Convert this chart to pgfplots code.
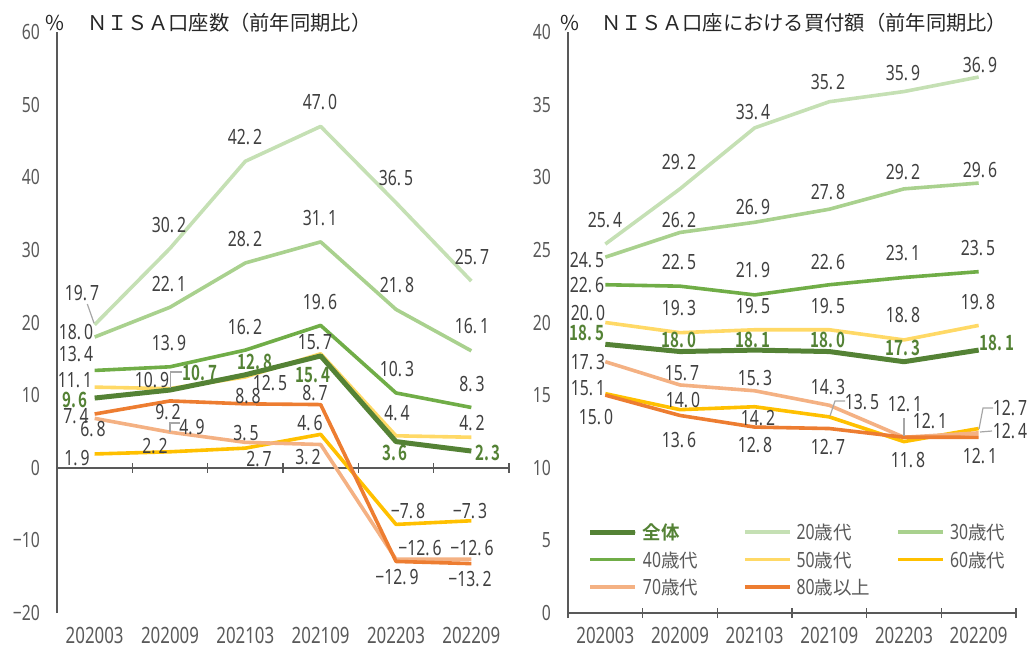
\documentclass[border=0pt]{standalone}
\usepackage{fontspec}
\usepackage{pgfplots}
\usepackage{pgfplotstable}
\pgfplotsset{compat=1.18}
\setmainfont{Noto Sans CJK JP}[BoldFont={Noto Sans CJK JP Bold}]
\newfontfamily\numf[FakeStretch=0.75]{Noto Sans}
\newfontfamily\numfb[FakeStretch=0.72]{Noto Sans CJK JP Bold}
\definecolor{cAll}{HTML}{548235}
\definecolor{c20}{HTML}{C5E0B4}
\definecolor{c30}{HTML}{A9D18E}
\definecolor{c40}{HTML}{70AD47}
\definecolor{c50}{HTML}{FFD966}
\definecolor{c60}{HTML}{FFC000}
\definecolor{c70}{HTML}{F4B183}
\definecolor{c80}{HTML}{ED7D31}
\definecolor{txt}{HTML}{404040}
\definecolor{axc}{HTML}{595959}
\definecolor{ldr}{HTML}{A6A6A6}

\pgfplotstableread{
x all a20 a30 a40 a50 a60 a70 a80
0 9.6 19.7 18.0 13.4 11.1 1.9 6.8 7.4
1 10.7 30.2 22.1 13.9 10.9 2.2 4.9 9.2
2 12.8 42.2 28.2 16.2 12.5 2.7 3.5 8.8
3 15.4 47.0 31.1 19.6 15.7 4.6 3.2 8.7
4 3.6 36.5 21.8 10.3 4.4 -7.8 -12.6 -12.9
5 2.3 25.7 16.1 8.3 4.2 -7.3 -12.6 -13.2
}\leftdata
\pgfplotstableread{
x all a20 a30 a40 a50 a60 a70 a80
0 18.5 25.4 24.5 22.6 20.0 15.1 17.3 15.0
1 18.0 29.2 26.2 22.5 19.3 14.0 15.7 13.6
2 18.1 33.4 26.9 21.9 19.5 14.2 15.3 12.8
3 18.0 35.2 27.8 22.6 19.5 13.5 14.3 12.7
4 17.3 35.9 29.2 23.1 18.8 11.8 12.1 12.1
5 18.1 36.9 29.6 23.5 19.8 12.7 12.4 12.1
}\rightdata

\def\fmt#1.#2\end{#1.\kern3pt#2}
\tikzset{
  lab/.style={font=\fontsize{21}{21}\numf, text=txt, inner sep=0pt, anchor=center},
  labg/.style={font=\fontsize{21}{21}\numfb, text=cAll, inner sep=0pt, anchor=center},
  ldrl/.style={draw=ldr, line width=1.2pt},
}
\newcommand\Lg[3]{\node[lab] at (#1pt,-#2pt) {\fmt#3\end};}
\newcommand\Lgr[3]{\node[labg] at (#1pt,-#2pt) {\fmt#3\end};}
\newcommand\lgtxt[1]{\makebox[95pt][l]{{\fontsize{21}{21}\numf #1}{\fontsize{18.5}{18.5}\selectfont 歳代}}}

\pgfplotsset{
  base/.style={
    scale only axis, xmin=-0.5, xmax=5.5, clip=false,
    axis x line*=bottom, axis y line*=left,
    x axis line style={draw=none},
    y axis line style={draw=axc, line width=1.5pt, -},
    xtick={0,...,5},
    xticklabels={202003,202009,202103,202109,202203,202209},
    major tick length=0pt, tick style={draw=none},
    xticklabel style={font=\fontsize{22.5}{22.5}\numf, text=axc, inner sep=0pt, anchor=north, yshift=-14pt},
    yticklabel style={font=\fontsize{21}{21}\numf, text=axc, inner sep=0pt, anchor=east, xshift=-17pt},
    every axis plot/.append style={line width=3.6pt, line join=round, no markers},
  }
}

\begin{document}
\begin{tikzpicture}
\path[use as bounding box] (0,0) rectangle (1032pt,-647pt);

% ---------- left chart ----------
\begin{axis}[base, at={(57pt,-613pt)}, anchor=south west, width=452pt, height=581pt,
  ymin=-20, ymax=60, ytick={-20,-10,...,60},
  yticklabels={−20,−10,0,10,20,30,40,50,60}]
\draw[axc, line width=1.5pt] (axis cs:-0.5,0) -- (axis cs:5.5,0);
\pgfplotsinvokeforeach{-0.5,0.5,1.5,2.5,3.5,4.5,5.5}{
  \draw[axc, line width=1.5pt] ([yshift=-5pt]axis cs:#1,0) -- ([yshift=5pt]axis cs:#1,0);
}
\addplot[c20] table[x=x,y=a20]{\leftdata};
\addplot[c30] table[x=x,y=a30]{\leftdata};
\addplot[c40] table[x=x,y=a40]{\leftdata};
\addplot[c50] table[x=x,y=a50]{\leftdata};
\addplot[c60] table[x=x,y=a60]{\leftdata};
\addplot[c70] table[x=x,y=a70]{\leftdata};
\addplot[c80] table[x=x,y=a80]{\leftdata};
\addplot[cAll, line width=5pt] table[x=x,y=all]{\leftdata};
\end{axis}

% ---------- right chart ----------
\begin{axis}[base, at={(568pt,-613pt)}, anchor=south west, width=448pt, height=581pt,
  ymin=0, ymax=40, ytick={0,5,...,40},
  yticklabels={0,5,10,15,20,25,30,35,40},
  legend columns=3,
  legend style={at={(rel axis cs:0.0446,0.1523)}, anchor=north west, draw=none, fill=none,
    inner sep=0pt, outer sep=0pt, column sep=5pt, row sep=12.5pt,
    nodes={inner sep=0pt, text height=15pt, text depth=0pt, text=axc}},
  legend cell align=left,
  legend image code/.code={\path (0pt,0pt) -- (45pt,0pt); \draw[#1, line cap=round] (2.5pt,0pt) -- (42.5pt,0pt);}]
\draw[axc, line width=1.5pt] (axis cs:-0.5,0) -- (axis cs:5.5,0);
\pgfplotsinvokeforeach{-0.5,0.5,1.5,2.5,3.5,4.5,5.5}{
  \draw[axc, line width=1.5pt] ([yshift=-5pt]axis cs:#1,0) -- ([yshift=5pt]axis cs:#1,0);
}
\addlegendimage{cAll, line width=5pt}
\addlegendentry{\makebox[95pt][l]{\fontsize{18.5}{18.5}\selectfont\bfseries\color{cAll}全体}}
\addplot[c20] table[x=x,y=a20]{\rightdata}; \addlegendentry{\lgtxt{20}}
\addplot[c30] table[x=x,y=a30]{\rightdata}; \addlegendentry{\lgtxt{30}}
\addplot[c40] table[x=x,y=a40]{\rightdata}; \addlegendentry{\lgtxt{40}}
\addplot[c50] table[x=x,y=a50]{\rightdata}; \addlegendentry{\lgtxt{50}}
\addplot[c60] table[x=x,y=a60]{\rightdata}; \addlegendentry{\lgtxt{60}}
\addplot[c70] table[x=x,y=a70]{\rightdata}; \addlegendentry{\lgtxt{70}}
\addplot[c80] table[x=x,y=a80]{\rightdata}; \addlegendentry{\makebox[95pt][l]{{\fontsize{21}{21}\numf 80}{\fontsize{18.5}{18.5}\selectfont 歳以上}}}
\addplot[cAll, line width=5pt, forget plot] table[x=x,y=all]{\rightdata};
\end{axis}

% ---------- titles ----------
\node[inner sep=0pt, anchor=center, font=\fontsize{20.5}{20.5}\selectfont, text=black!85] at (55pt,-23pt) {\%};
\node[inner sep=0pt, anchor=west, font=\fontsize{20.3}{20.3}\selectfont, text=black!85] at (87pt,-23pt) {ＮＩＳＡ口座数（前年同期比）};
\node[inner sep=0pt, anchor=center, font=\fontsize{20.5}{20.5}\selectfont, text=black!85] at (569.5pt,-23pt) {\%};
\node[inner sep=0pt, anchor=west, font=\fontsize{20.3}{20.3}\selectfont, text=black!85] at (601pt,-23pt) {ＮＩＳＡ口座における買付額（前年同期比）};

% ---------- left labels ----------
\Lg{82}{293}{19.7}
\Lg{76}{332}{18.0}
\Lg{76}{354}{13.4}
\Lg{75}{380}{11.1}
\Lgr{75}{400}{9.6}
\Lg{76}{416}{7.4}
\Lg{93}{429}{6.8}
\Lg{77}{458}{1.9}
\Lg{169}{225}{30.2}
\Lg{169}{284}{22.1}
\Lg{169}{343}{13.9}
\Lg{152}{380}{10.9}
\Lgr{200}{373}{10.7}
\Lg{168}{412}{9.2}
\Lg{192}{427}{4.9}
\Lg{155}{446}{2.2}
\Lg{245}{137}{42.2}
\Lg{245}{239}{28.2}
\Lg{245}{327}{16.2}
\Lgr{255}{362}{12.8}
\Lg{270}{383}{12.5}
\Lg{248}{396}{8.8}
\Lg{246}{433}{3.5}
\Lg{259}{459}{2.7}
\Lg{320}{102}{47.0}
\Lg{320}{218}{31.1}
\Lg{320}{302}{19.6}
\Lg{315}{342}{15.7}
\Lgr{313}{375}{15.4}
\Lg{315}{393}{8.7}
\Lg{310}{423}{4.6}
\Lg{308}{457}{3.2}
\Lg{396}{178}{36.5}
\Lg{397}{285}{21.8}
\Lg{397}{369}{10.3}
\Lg{397}{413}{4.4}
\Lgr{395}{453}{3.6}
\Lg{408}{511}{−7.8}
\Lg{420}{548}{−12.6}
\Lg{397}{577}{−12.9}
\Lg{472}{257}{25.7}
\Lg{472}{326}{16.1}
\Lg{472}{384}{8.3}
\Lg{472}{423}{4.2}
\Lgr{488}{453}{2.3}
\Lg{470}{511}{−7.3}
\Lg{472}{548}{−12.6}
\Lg{470}{579}{−13.2}
\draw[ldrl] (87.3pt,-304pt) -- (94pt,-323pt);
\draw[ldrl] (182pt,-372pt) -- (170.7pt,-372pt) -- (170.7pt,-388pt);
\draw[ldrl] (180pt,-423pt) -- (170pt,-423pt) -- (170pt,-432pt);

% ---------- right labels ----------
\Lg{605}{220}{25.4}
\Lg{587}{260}{24.5}
\Lg{587}{285}{22.6}
\Lg{588}{313}{20.0}
\Lgr{587}{333}{18.5}
\Lg{588}{362}{17.3}
\Lg{588}{388}{15.1}
\Lg{596}{417}{15.0}
\Lg{679}{162}{29.2}
\Lg{679}{220}{26.2}
\Lg{679}{262}{22.5}
\Lg{679}{308}{19.3}
\Lgr{679}{340}{18.0}
\Lg{682}{373}{15.7}
\Lg{683}{400}{14.0}
\Lg{679}{440}{13.6}
\Lg{753}{112}{33.4}
\Lg{753}{207}{26.9}
\Lg{753}{270}{21.9}
\Lg{753}{306}{19.5}
\Lgr{753}{340}{18.1}
\Lg{755}{378}{15.3}
\Lg{758}{418}{14.2}
\Lg{755}{445}{12.8}
\Lg{828}{82}{35.2}
\Lg{828}{192}{27.8}
\Lg{828}{262}{22.6}
\Lg{828}{306}{19.5}
\Lgr{828}{340}{18.0}
\Lg{828}{387}{14.3}
\Lg{862}{402}{13.5}
\Lg{828}{447}{12.7}
\Lg{903}{73}{35.9}
\Lg{903}{172}{29.2}
\Lg{903}{253}{23.1}
\Lg{903}{315}{18.8}
\Lgr{903}{348}{17.3}
\Lg{905}{404}{12.1}
\Lg{930}{421}{12.1}
\Lg{908}{460}{11.8}
\Lg{980}{65}{36.9}
\Lg{980}{170}{29.6}
\Lg{978}{248}{23.5}
\Lg{978}{302}{19.8}
\Lgr{997}{343}{18.1}
\Lg{1010}{408}{12.7}
\Lg{1010}{431}{12.4}
\Lg{980}{456}{12.1}
\draw[ldrl] (845pt,-401pt) -- (835pt,-401pt) -- (830pt,-416pt);
\draw[ldrl] (904pt,-418pt) -- (904pt,-436pt);
\draw[ldrl] (993pt,-408pt) -- (983pt,-408pt) -- (979pt,-429pt);
\draw[ldrl] (992pt,-431pt) -- (980pt,-432pt);
\end{tikzpicture}
\end{document}
